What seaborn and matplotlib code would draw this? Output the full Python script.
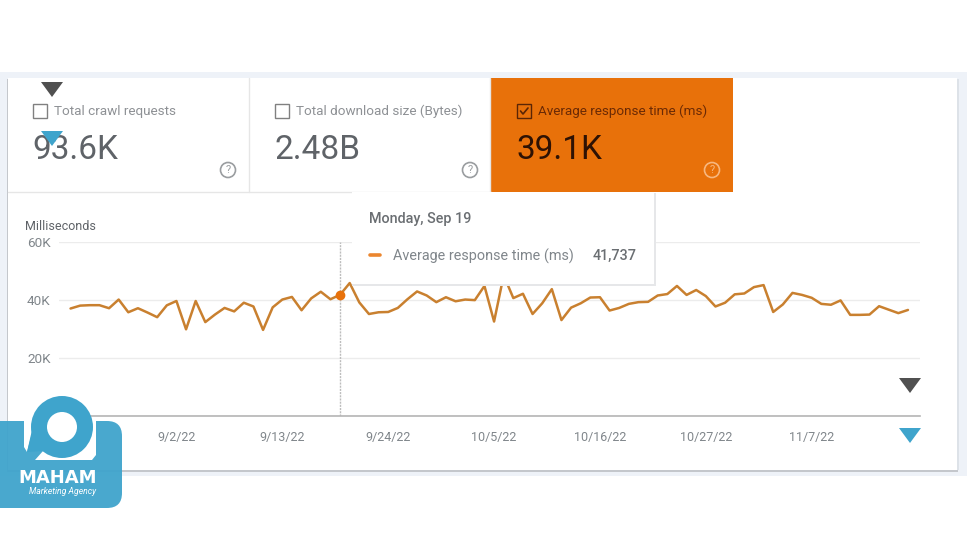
#!/usr/bin/env python3
# plot.py - Search Console style crawl stats panel, average response time

import pandas as pd
import seaborn as sns
import matplotlib.pyplot as plt
from matplotlib.patches import Rectangle, FancyBboxPatch, Circle, Polygon
from matplotlib.ticker import FuncFormatter

# --- 1. Data ---
start_date = "2022-08-22"
response_ms = [
    37000, 38000, 38150, 38150, 37100, 40100, 35700, 37100, 35600, 34000, 38100,
    39600, 29800, 39600, 32300, 34900, 37200, 36000, 39000, 37700, 29600, 37400,
    40100, 41000, 36400, 40500, 42800, 40200, 41737, 45800, 39100, 35100, 35700,
    35800, 37200, 40200, 42900, 41500, 39200, 40900, 39500, 40100, 39900, 44800,
    32500, 48500, 40600, 42100, 35100, 38800, 43700, 33000, 37300, 38800, 40800,
    40900, 36300, 37200, 38600, 39200, 39300, 41500, 42000, 44800, 41700, 43400,
    41300, 37700, 39000, 41900, 42200, 44400, 45100, 35800, 38400, 42400, 41700,
    40700, 38600, 38300, 39800, 34800, 34800, 34900, 37800, 36600, 35400, 36500,
]
tick_dates = ["8/22/22", "9/2/22", "9/13/22", "9/24/22", "10/5/22", "10/16/22", "10/27/22", "11/7/22"]
y_ticks = [0, 20000, 40000, 60000]
hover_date = "2022-09-19"
hover_value = 41737

tile_labels = ["Total crawl requests", "Total download size (Bytes)", "Average response time (ms)"]
tile_values = ["93.6K", "2.48B", "39.1K"]

ORANGE = "#E8710A"
LINE = "#C9802F"
GREY = "#80868B"
BLUE = "#3FA4CC"
DARK = "#505050"

df = pd.DataFrame({
    "date": pd.date_range(start_date, periods=len(response_ms)),
    "ms": response_ms,
})

# --- 2. Figure ---
sns.set_theme(style="white")
plt.rcParams["font.family"] = ["Roboto", "DejaVu Sans"]
W, H = 967, 550
fig = plt.figure(figsize=(W / 100, H / 100), dpi=100, facecolor="white")


def pixel_axes(z):
    ax = fig.add_axes([0, 0, 1, 1], zorder=z)
    ax.set_xlim(0, W)
    ax.set_ylim(H, 0)
    ax.axis("off")
    ax.patch.set_alpha(0)
    return ax


def triangle(ax, cx, top, color):
    ax.add_patch(Polygon([(cx - 11, top), (cx + 11, top), (cx, top + 15)], color=color, lw=0, zorder=20))


# --- 3. Card behind the chart ---
bg = pixel_axes(0)
bg.add_patch(Rectangle((0, 72), W, 404, color="#EEF2F8", lw=0))
bg.add_patch(Rectangle((7, 79), 951, 393, color="#C4C7CC", lw=0))
bg.add_patch(Rectangle((957, 79), 2, 391, color="#DDE2E8", lw=0))
bg.add_patch(Rectangle((8, 78), 949, 392, color="white", lw=0))
bg.plot([8, 491], [192, 192], color="#E6E6E6", lw=1)
bg.plot([248.5, 248.5], [78, 192], color="#E6E6E6", lw=1)
bg.plot([490, 490], [78, 192], color="#E6E6E6", lw=1)
bg.add_patch(Rectangle((491, 78), 242, 114, color=ORANGE, lw=0))
bg.add_patch(Rectangle((47, 190), 10, 4, color="white", lw=0))

for x0, label, value, checked in zip([33, 275, 517], tile_labels, tile_values, [False, False, True]):
    tc = "#6B2A05" if checked else "#8E9195"
    vc = "#2E1204" if checked else "#5F6368"
    bg.add_patch(Rectangle((x0, 104), 14, 14, fill=False, ec="#5A2506" if checked else "#808080", lw=1))
    if checked:
        bg.plot([x0 + 3.5, x0 + 6, x0 + 11], [111, 114, 108], color="#5A2506", lw=1.2)
    bg.text(x0 + 21, 111, label, fontsize=9.7, color=tc, va="center", ha="left")
    bg.text(x0 - 1, 150, value, fontsize=24, color=vc, va="center", ha="left")
    help_x = x0 + 195
    help_c = "#F7B77F" if checked else "#9A9DA0"
    bg.add_patch(Circle((help_x, 170), 7.5, fill=False, ec=help_c, lw=1.2))
    bg.text(help_x, 170, "?", fontsize=8, color=help_c, ha="center", va="center")

bg.text(25, 226, "Milliseconds", fontsize=9, color="#5F6368", va="center", ha="left")

# --- 4. Line chart ---
left, right, top, bottom = 59, 920, 242, 415.5
ax = fig.add_axes([left / W, 1 - bottom / H, (right - left) / W, (bottom - top) / H], zorder=1)
ax.patch.set_alpha(0)
sns.lineplot(data=df, x="date", y="ms", ax=ax, color=LINE, lw=1.8, errorbar=None, zorder=3)
ax.set_xlim(pd.Timestamp("2022-09-02") - pd.Timedelta(days=12.2), pd.Timestamp("2022-11-07") + pd.Timedelta(days=11.25))
ax.set_ylim(0, 60000)
ax.set_yticks(y_ticks)
ax.yaxis.set_major_formatter(FuncFormatter(lambda v, _: f"{int(v / 1000)}K" if v else ""))
ax.set_xticks(pd.to_datetime(tick_dates, format="%m/%d/%y"))
ax.set_xticklabels(tick_dates)
ax.set_xlabel("")
ax.set_ylabel("")
ax.grid(axis="y", color="#ECECEC", lw=1)
ax.tick_params(axis="x", length=0, labelsize=9, labelcolor=GREY, pad=11)
ax.tick_params(axis="y", length=0, labelsize=9.7, labelcolor=GREY, pad=6)
sns.despine(ax=ax, left=True, top=True, right=True)
ax.spines["bottom"].set_color("#B5B5B5")
ax.spines["bottom"].set_linewidth(1.2)
hover = pd.Timestamp(hover_date)
ax.axvline(hover, color="#BDBDBD", lw=1, ls=(0, (1.5, 0.8)), zorder=2)
ax.plot([hover], [hover_value], "o", color=ORANGE, ms=6, zorder=4)

# --- 5. Tooltip, triangles, logo on top ---
fg = pixel_axes(5)
fg.add_patch(Rectangle((352, 193), 303.5, 92.5, color="#E6E7E9", lw=0))
fg.add_patch(Rectangle((352, 192), 302, 92, color="white", lw=0))
fg.text(369, 219, "Monday, Sep 19", fontsize=10.4, color="#6A6E72", weight="medium", va="center")
fg.plot([369.5, 380], [255, 255], color=ORANGE, lw=2.6, solid_capstyle="round", alpha=0.85)
fg.text(393, 256, tile_labels[2], fontsize=10.4, color=GREY, va="center")
fg.text(637, 256, f"{hover_value:,}", fontsize=10.4, color="#6A6E72", weight="medium", va="center", ha="right")

triangle(fg, 52, 82, DARK)
triangle(fg, 52, 131, BLUE)
triangle(fg, 910, 378, DARK)
triangle(fg, 910, 428, BLUE)

fg.add_patch(FancyBboxPatch((-20, 421), 142, 87, boxstyle="round,pad=0,rounding_size=15", color=BLUE, lw=0, alpha=0.95))
fg.add_patch(Polygon([(24, 421), (33, 421), (32, 433), (27, 452), (24, 447)], color="white", lw=0))
fg.add_patch(Polygon([(43, 451), (35, 460), (92, 460), (96, 455), (96, 420), (62, 427)], color="white", lw=0))
fg.add_patch(Circle((62, 427), 31, color=BLUE, lw=0))
fg.add_patch(Polygon([(32, 430), (27, 452), (43, 451), (50, 447), (40, 425)], color=BLUE, lw=0))
fg.add_patch(Circle((62, 427), 15, color="white", lw=0))
fg.text(58, 478, "MAHAM", fontsize=13, weight="bold", color="white", ha="center", va="center", family="DejaVu Sans")
fg.text(63, 491, "Marketing Agency", fontsize=6.2, style="italic", color="white", ha="center", va="center")

# --- 6. Save ---
fig.savefig("out.png", dpi=100)
plt.close(fig)
